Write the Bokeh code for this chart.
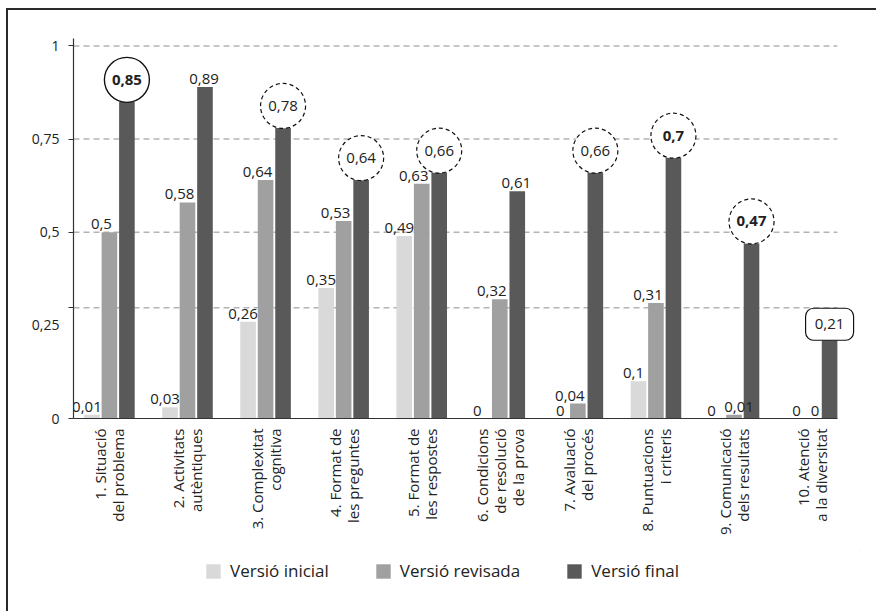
import math
from bokeh.plotting import figure
from bokeh.layouts import column
from bokeh.models import Range1d, FixedTicker, ColumnDataSource, Legend, LegendItem
from bokeh.core.properties import value
from bokeh.embed import file_html
from bokeh.resources import INLINE

# ---- data ----
categories = [
    "1. Situació\ndel problema",
    "2. Activitats\nautèntiques",
    "3. Complexitat\ncognitiva",
    "4. Format de\nles preguntes",
    "5. Format de\nles respostes",
    "6. Condicions\nde resolució\nde la prova",
    "7. Avaluació\ndel procés",
    "8. Puntuacions\ni criteris",
    "9. Comunicació\ndels resultats",
    "10. Atenció\na la diversitat",
]
inicial = [0.01, 0.03, 0.26, 0.35, 0.49, 0, 0, 0.1, 0, 0]
revisada = [0.5, 0.58, 0.64, 0.53, 0.63, 0.32, 0.04, 0.31, 0.01, 0]
final = [0.85, 0.89, 0.78, 0.64, 0.66, 0.61, 0.66, 0.7, 0.47, 0.21]
series_names = ["Versió inicial", "Versió revisada", "Versió final"]
# how the label of the "final" bar is framed
final_marks = ["solid", "plain", "dashed", "dashed", "dashed", "plain", "dashed", "dashed", "dashed", "box"]
final_bold = [True, False, False, False, False, False, False, True, True, False]
y_ticks = [0, 0.25, 0.5, 0.75, 1]
y_tick_labels = ["0", "0,25", "0,5", "0,75", "1"]
grid_levels = [0.297, 0.5, 0.75, 1]

# ---- style ----
FONT = "Open Sans"
colors = ["#d9d9d9", "#a0a0a0", "#595959"]
offsets = [-0.224, 0.0, 0.224]
bar_w = 0.2
TXT = "#222222"
label_dx = [-5, -8, -1]            # horizontal nudge of plain labels, per series (px)
label_nudge = {(1, 8): 5, (0, 9): 2, (1, 9): 3, (0, 6): 0}   # (series, group) -> px

def fmt(v):
    return ("%g" % v).replace(".", ",")

X0, X1 = 0.54, 10.62
p = figure(width=868, height=540, output_backend="svg", toolbar_location=None,
           x_range=Range1d(X0, X1), y_range=Range1d(0, 1.02),
           min_border_left=65, min_border_right=16, min_border_top=28, min_border_bottom=132)
p.outline_line_color = None
p.background_fill_color = "white"
p.border_fill_color = "white"

xs = list(range(1, len(categories) + 1))
x_end = xs[-1] + offsets[2] + bar_w / 2

# grid (drawn as segments so they stop at the last bar)
p.xgrid.visible = False
p.ygrid.visible = False
g = p.segment(x0=[X0] * len(grid_levels), x1=[x_end] * len(grid_levels),
              y0=grid_levels, y1=grid_levels, line_color="#b4b4b4",
              line_width=1.5, line_dash="6 4")
g.level = "underlay"

# y axis
p.yaxis.ticker = FixedTicker(ticks=y_ticks, minor_ticks=[0] + grid_levels)
p.yaxis.major_label_overrides = {t: l for t, l in zip(y_ticks, y_tick_labels)}
p.yaxis.major_tick_out = 0
p.yaxis.major_tick_in = 0
p.yaxis.minor_tick_out = 5
p.yaxis.minor_tick_in = 0
p.yaxis.minor_tick_line_color = "#333333"
p.yaxis.axis_line_color = "#333333"
p.yaxis.axis_line_width = 1.2
p.yaxis.major_label_text_font = FONT
p.yaxis.major_label_text_font_size = "14px"
p.yaxis.major_label_text_color = TXT
p.yaxis.major_label_standoff = 9

# x axis
p.xaxis.ticker = FixedTicker(ticks=xs)
p.xaxis.bounds = (X0 - 0.05, x_end)
p.xaxis.major_label_overrides = {x: c for x, c in zip(xs, categories)}
p.xaxis.major_label_orientation = math.pi / 2
p.xaxis.major_tick_out = 0
p.xaxis.major_tick_in = 0
p.xaxis.minor_tick_out = 0
p.xaxis.minor_tick_in = 0
p.xaxis.axis_line_color = "#333333"
p.xaxis.axis_line_width = 1.2
p.xaxis.major_label_text_font = FONT
p.xaxis.major_label_text_font_size = "15px"
p.xaxis.major_label_text_line_height = 0.9
p.xaxis.major_label_text_color = TXT
p.xaxis.major_label_standoff = 10

# bars
series = [inicial, revisada, final]
for vals, off, col in zip(series, offsets, colors):
    src = ColumnDataSource(dict(x=[x + off for x in xs], top=vals))
    p.vbar(x="x", top="top", width=bar_w, bottom=0, source=src,
           fill_color=col, line_color=None)

# plain labels
for si, (vals, off) in enumerate(zip(series, offsets)):
    lx, ly, lt, ld = [], [], [], []
    for i, v in enumerate(vals):
        if si == 2 and final_marks[i] != "plain":
            continue
        lx.append(xs[i] + off)
        ly.append(v)
        lt.append(fmt(v))
        ld.append(label_nudge.get((si, i), label_dx[si]))
    src = ColumnDataSource(dict(x=lx, y=ly, t=lt, dx=ld))
    p.text(x="x", y="y", text="t", x_offset="dx", source=src, text_align="center",
           text_baseline="bottom", y_offset=-3, text_font=value(FONT),
           text_font_size="15px", text_color=TXT)

# framed labels of the final series
px_per_unit = (418 - 38) / 1.02
circ_off = 22 / px_per_unit
box_off = 16 / px_per_unit
for kind, dash, lw in (("solid", "solid", 1.4), ("dashed", "4 3", 1.2)):
    cx = [xs[i] + offsets[2] for i in range(len(final)) if final_marks[i] == kind]
    cy = [final[i] + circ_off for i in range(len(final)) if final_marks[i] == kind]
    p.scatter(x=cx, y=cy, marker="circle", size=45, fill_color="white",
              line_color="#111111", line_width=lw, line_dash=dash)
bx = [xs[i] + offsets[2] for i in range(len(final)) if final_marks[i] == "box"]
by = [final[i] + box_off for i in range(len(final)) if final_marks[i] == "box"]
p.rect(x=bx, y=by, width=48, height=32, width_units="screen", height_units="screen",
       fill_color="white", line_color="#111111", line_width=1.2, border_radius=8)

for bold in (False, True):
    tx, ty, tt = [], [], []
    for i, v in enumerate(final):
        m = final_marks[i]
        if m == "plain" or final_bold[i] != bold:
            continue
        tx.append(xs[i] + offsets[2])
        ty.append(v + (box_off if m == "box" else circ_off))
        tt.append(fmt(v))
    p.text(x=tx, y=ty, text=tt, text_align="center", text_baseline="middle",
           text_font=value(FONT), text_font_size="15px", text_color=TXT,
           text_font_style="bold" if bold else "normal")

# legend in its own strip below the chart
pl = figure(width=868, height=61, output_backend="svg", toolbar_location=None,
            x_range=Range1d(0, 1), y_range=Range1d(0, 1),
            x_axis_location=None, y_axis_location=None,
            min_border=0, min_border_left=0, min_border_right=0,
            min_border_top=0, min_border_bottom=0)
pl.outline_line_color = None
pl.grid.visible = False
pl.background_fill_color = "white"
pl.border_fill_color = "white"
# legend swatches (kept outside the visible range of this strip)
leg_r = [pl.vbar(x=[5], top=[5], bottom=[4], width=0.1, fill_color=c, line_color=None)
         for c in colors]
legend = Legend(items=[LegendItem(label=n, renderers=[r]) for n, r in zip(series_names, leg_r)],
                orientation="horizontal", location=(131, 29))
legend.border_line_color = None
legend.background_fill_alpha = 0
legend.padding = 0
legend.margin = 0
legend.spacing = 45
legend.glyph_width = 18
legend.glyph_height = 18
legend.label_height = 18
legend.label_standoff = 8
legend.label_text_font = FONT
legend.label_text_font_size = "17px"
legend.label_text_color = TXT
legend.label_text_baseline = "middle"
pl.add_layout(legend, "center")

layout = column(p, pl, spacing=0, margin=(8, 0, 0, 6),
                styles={"border-left": "2px solid #2a2a2a", "border-top": "2px solid #2a2a2a",
                        "background-color": "white"})

open("out.html", "w").write(file_html(layout, INLINE))
